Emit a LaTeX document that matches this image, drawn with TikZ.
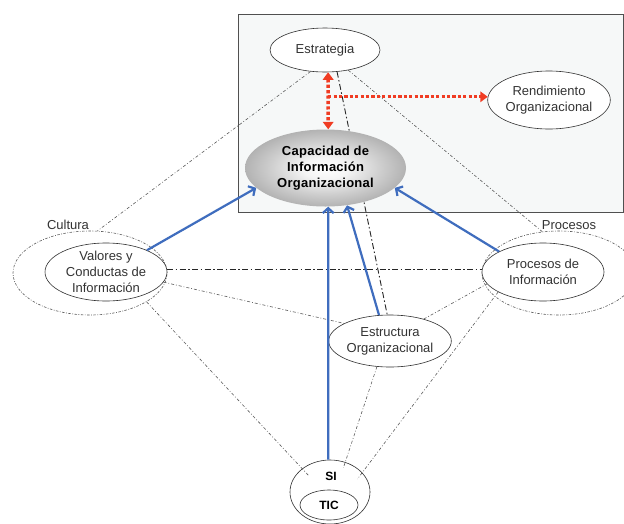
\documentclass[tikz,border=0pt]{standalone}
\usepackage{fontspec}
\setmainfont{Liberation Sans}
\newfontfamily\capfont{Liberation Sans}[LetterSpace=2.0]
\usetikzlibrary{shapes.geometric,arrows.meta}

\definecolor{colBoxFill}{HTML}{F6F8F8}
\definecolor{colBoxLine}{HTML}{505050}
\definecolor{colBlue}{HTML}{3F6DBE}
\definecolor{colRed}{HTML}{F03C23}
\definecolor{colRing}{HTML}{303030}
\definecolor{colThin}{HTML}{5A5A5A}

% soft grey glow for the central capability ellipse (rim at 25bp)
\pgfdeclareradialshading{capshade}{\pgfpoint{0bp}{0bp}}{%
  color(0bp)=(white); color(7bp)=(gray!8); color(17bp)=(gray!38);
  color(25bp)=(gray!60); color(50bp)=(gray!60)}

\pgfdeclarelayer{bg}
\pgfdeclarelayer{links}
\pgfsetlayers{bg,links,main}

\begin{document}
\begin{tikzpicture}[x=1pt,y=-1pt,
  every node/.style={font=\fontsize{13}{16}\selectfont, align=center, text=black!80},
  oval/.style={ellipse, draw=colRing, line width=0.6pt, fill=white,
    inner xsep=0pt, inner ysep=-5pt},
  ring/.style={ellipse, draw=colThin, line width=0.6pt,
    dash pattern=on 2.5pt off 1.5pt on 0.8pt off 1.5pt, inner sep=0pt},
  thinlink/.style={draw=colThin, line width=0.6pt,
    dash pattern=on 3pt off 2pt on 0.8pt off 2pt},
  boldlink/.style={draw=black!85, line width=0.9pt,
    dash pattern=on 6pt off 2.5pt on 1.5pt off 2.5pt},
  bluearrow/.style={draw=colBlue, line width=2.2pt,
    -{Straight Barb[length=5pt,width=11pt]}},
  redline/.style={draw=colRed, line width=3.4pt,
    dash pattern=on 3.2pt off 2.2pt, >={Triangle[length=7.5pt,width=10.5pt]}}]

\clip (0,0) rectangle (624,523);

% framed area holding strategy, capability and performance
\begin{pgfonlayer}{bg}
  \fill[white] (0,0) rectangle (624,523);
  \draw[draw=colBoxLine, fill=colBoxFill, line width=0.8pt] (238,14) rectangle (623,212);
\end{pgfonlayer}

% nodes
\node[oval, minimum width=110pt, minimum height=44pt] (E) at (325,50) {Estrategia};
\node[oval, minimum width=122pt, minimum height=58pt] (R) at (549,100) {Rendimiento\\Organizacional};
\node[ellipse, shade, shading=capshade, minimum width=161pt, minimum height=77pt,
  inner xsep=0pt, inner ysep=-5pt,
  font=\capfont\bfseries\fontsize{13}{16}\selectfont, text=black] (Cap) at (325.5,168)
  {Capacidad de\\Información\\Organizacional};

\node[ring, minimum width=154pt, minimum height=84pt] (C) at (90,273) {};
\node[ring, minimum width=154pt, minimum height=84pt] (P) at (559,273) {};
\node (cultlab) at (68,225) {Cultura};
\node (proclab) at (569,225) {Procesos};

\node[oval, minimum width=122pt, minimum height=58pt] (V) at (106,272) {Valores y\\Conductas de\\Información};
\node[oval, minimum width=122pt, minimum height=58pt] (Pi) at (543,272) {Procesos de\\Información};
\node[oval, minimum width=110pt, minimum height=52pt] (S) at (390,341) {Estructura\\Organizacional};

\node[ellipse, draw=colRing, line width=0.6pt, minimum width=80pt, minimum height=64pt,
  inner sep=0pt] (SI) at (330,492) {};
\node[font=\bfseries\fontsize{12}{14}\selectfont, text=black] (SIlab) at (331,476) {SI};
\node[oval, minimum width=58pt, minimum height=30pt,
  font=\bfseries\fontsize{12}{14}\selectfont, text=black] (TIC) at (329,505) {TIC};

% dash-dotted relations
\begin{pgfonlayer}{links}
  \draw[thinlink] (E.236) -- (C.80);
  \draw[boldlink] (E.299) -- (S.96);
  \draw[thinlink] (E.319) -- (P.112);
  \draw[boldlink] (V.2) -- (Pi.178);
  \draw[thinlink] (V.350) -- (S.159);
  \draw[thinlink] (S.33) -- (Pi.192);
  \draw[thinlink, shorten >=-9pt] (C.333) -- (SI.140);
  \draw[thinlink, shorten >=-6pt] (S.243) -- (SI.63);
  \draw[thinlink, shorten >=-8pt] (Pi.204) -- (SI.31);
\end{pgfonlayer}

% contributions to the information capability
\draw[bluearrow] (V.28) -- (Cap.196);
\draw[bluearrow] (Pi.155) -- (Cap.344);
\draw[bluearrow] (S.113) -- (Cap.300);
\draw[bluearrow] (SI.93) -- (Cap.274);

% strategy, capability and performance
\draw[redline, <->] (E.278) -- (Cap.86);
\draw[redline, ->] (E.278 |- R.177) -- (R.177);

\end{tikzpicture}
\end{document}
